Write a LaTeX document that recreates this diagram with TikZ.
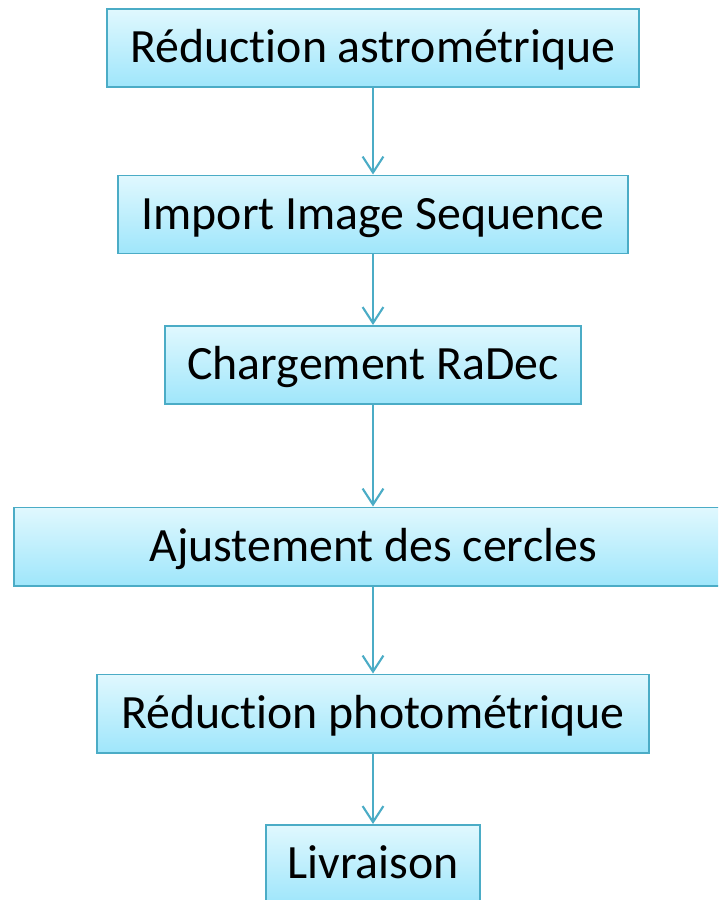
\documentclass[tikz,border=0pt]{standalone}
\usepackage{fontspec}
\setmainfont{Carlito}[Ligatures=NoCommon]
\usetikzlibrary{arrows.meta}
\usetikzlibrary{math}
\usetikzlibrary{positioning}
\definecolor{bordbleu}{HTML}{4BACC6}
\definecolor{hautbleu}{HTML}{E0F8FE}
\definecolor{basbleu}{HTML}{9FE6FB}

\begin{document}
\begin{tikzpicture}[x=0.025cm,y=-0.025cm,
    etape/.style={rectangle,draw=bordbleu,line width=1.4pt,
        top color=hautbleu,bottom color=basbleu,
        minimum height=1.95cm,inner sep=0pt,
        text height=28.5pt,text depth=7.3pt,
        font=\fontsize{34}{40}\selectfont},
    fleche/.style={draw=bordbleu,line width=1.5pt,
        -{Straight Barb[length=0.4cm,width=0.52cm,line width=1.5pt]}}]
    \tikzmath{  \xc = 373 ;
                \y1 = 48 ;
                \y2 = 214.5 ;
                \y3 = 365 ;
                \y4 = 546.5 ;
                \y5 = 713.5 ;
                \y6 = 864 ;
                }
    \clip (0,0) rectangle (718,900);
    \node[etape,minimum width=13.275cm] (astro) at (\xc,\y1) {Réduction astrométrique};
    \node[etape,minimum width=12.725cm] (import) at (\xc,\y2) {Import Image Sequence};
    \node[etape,minimum width=10.4cm] (radec) at (\xc,\y3) {Chargement RaDec};
    \node[etape,minimum width=17.95cm] (cercles) at (\xc,\y4) {Ajustement des cercles};
    \node[etape,minimum width=13.775cm] (photo) at (\xc,\y5) {Réduction photométrique};
    \node[etape,minimum width=5.325cm] (livr) at (\xc,\y6) {Livraison};

    \draw[fleche] (astro) -- (import);
    \draw[fleche] (import) -- (radec);
    \draw[fleche] (radec) -- (cercles);
    \draw[fleche] (cercles) -- (photo);
    \draw[fleche] (photo) -- (livr);
\end{tikzpicture}
\end{document}
